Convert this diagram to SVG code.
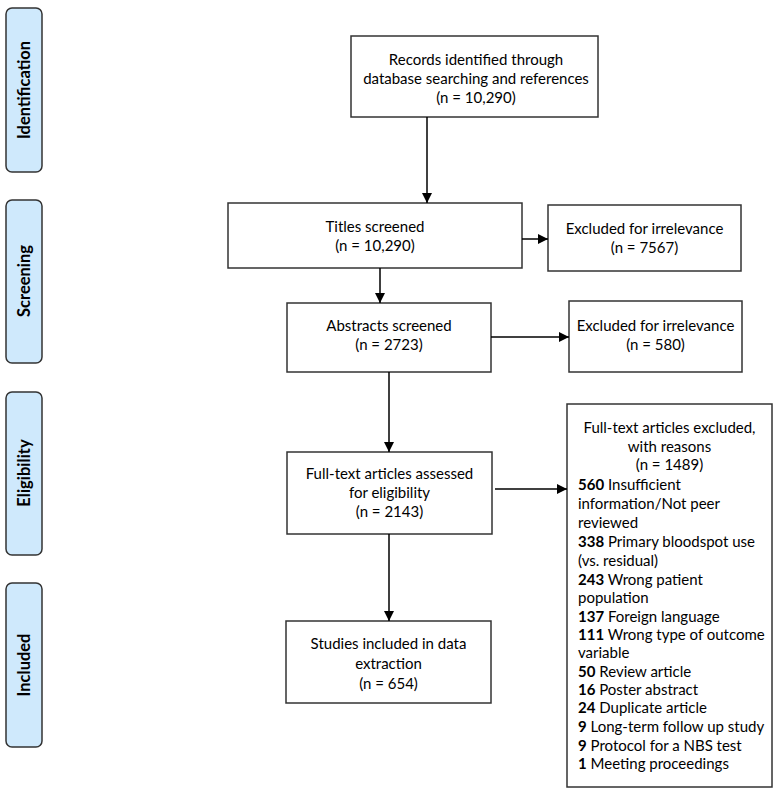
<svg xmlns="http://www.w3.org/2000/svg" width="775" height="791" viewBox="0 0 775 791">
<defs>
<marker id="ah" viewBox="0 0 10 10" refX="10" refY="5" markerWidth="10" markerHeight="10" markerUnits="userSpaceOnUse" orient="auto">
<path d="M0,0 L10,5 L0,10 Z" fill="#000"/>
</marker>
<style>
.stage rect{fill:#cfe9fc;stroke:#333;stroke-width:1.5}
.stage text{font-family:Lato,"Liberation Sans",sans-serif;font-weight:bold;font-size:16.5px;fill:#000;text-anchor:middle}
.box rect{fill:#fff;stroke:#333;stroke-width:1.5}
.box text{font-family:Lato,"Liberation Sans",sans-serif;font-size:15px;fill:#000}
.c{text-anchor:middle}
.conn line{stroke:#000;stroke-width:1.5;marker-end:url(#ah)}
</style>
</defs>
<rect width="775" height="791" fill="#fff"/>
<g id="stage-identification" class="stage"><rect x="6" y="8" width="36" height="164" rx="6"/><text transform="translate(30,90) rotate(-90)">Identification</text></g>
<g id="stage-screening" class="stage"><rect x="6" y="200" width="36" height="163" rx="6"/><text transform="translate(30,281) rotate(-90)">Screening</text></g>
<g id="stage-eligibility" class="stage"><rect x="6" y="392" width="36" height="163" rx="6"/><text transform="translate(30,473) rotate(-90)">Eligibility</text></g>
<g id="stage-included" class="stage"><rect x="6" y="583" width="36" height="164" rx="6"/><text transform="translate(30,665) rotate(-90)">Included</text></g>

<g id="records" class="box"><rect x="351" y="36" width="247" height="81"/>
<text class="c" x="476" y="65">Records identified through</text>
<text class="c" x="476" y="84">database searching and references</text>
<text class="c" x="476" y="103">(n = 10,290)</text></g>

<g id="titles" class="box"><rect x="228" y="203" width="294" height="65"/>
<text class="c" x="375" y="232">Titles screened</text>
<text class="c" x="375" y="251">(n = 10,290)</text></g>

<g id="excluded-titles" class="box"><rect x="548" y="205" width="193" height="66"/>
<text class="c" x="644.5" y="234">Excluded for irrelevance</text>
<text class="c" x="644.5" y="253">(n = 7567)</text></g>

<g id="abstracts" class="box"><rect x="287" y="303" width="204" height="69"/>
<text class="c" x="389" y="331">Abstracts screened</text>
<text class="c" x="389" y="350">(n = 2723)</text></g>

<g id="excluded-abstracts" class="box"><rect x="569" y="301" width="173" height="71"/>
<text class="c" x="655.5" y="331">Excluded for irrelevance</text>
<text class="c" x="655.5" y="350">(n = 580)</text></g>

<g id="fulltext" class="box"><rect x="287" y="452" width="205" height="82"/>
<text class="c" x="389.5" y="479">Full-text articles assessed</text>
<text class="c" x="389.5" y="498">for eligibility</text>
<text class="c" x="389.5" y="517">(n = 2143)</text></g>

<g id="included" class="box"><rect x="286" y="621" width="205" height="82"/>
<text class="c" x="388.5" y="649">Studies included in data</text>
<text class="c" x="388.5" y="669">extraction</text>
<text class="c" x="388.5" y="689">(n = 654)</text></g>

<g id="excluded-fulltext" class="box"><rect x="567" y="404" width="205" height="383"/>
<text class="c" x="669.5" y="433">Full-text articles excluded,</text>
<text class="c" x="669.5" y="452">with reasons</text>
<text class="c" x="669.5" y="470">(n = 1489)</text>
<text x="578" y="490"><tspan font-weight="bold">560</tspan> Insufficient</text>
<text x="578" y="509">information/Not peer</text>
<text x="578" y="528">reviewed</text>
<text x="578" y="547"><tspan font-weight="bold">338</tspan> Primary bloodspot use</text>
<text x="578" y="566">(vs. residual)</text>
<text x="578" y="585"><tspan font-weight="bold">243</tspan> Wrong patient</text>
<text x="578" y="603">population</text>
<text x="578" y="622"><tspan font-weight="bold">137</tspan> Foreign language</text>
<text x="578" y="640"><tspan font-weight="bold">111</tspan> Wrong type of outcome</text>
<text x="578" y="658">variable</text>
<text x="578" y="677"><tspan font-weight="bold">50</tspan> Review article</text>
<text x="578" y="695"><tspan font-weight="bold">16</tspan> Poster abstract</text>
<text x="578" y="713"><tspan font-weight="bold">24</tspan> Duplicate article</text>
<text x="578" y="732"><tspan font-weight="bold">9</tspan> Long-term follow up study</text>
<text x="578" y="751"><tspan font-weight="bold">9</tspan> Protocol for a NBS test</text>
<text x="578" y="769"><tspan font-weight="bold">1</tspan> Meeting proceedings</text></g>

<g id="connectors" class="conn">
<line x1="427" y1="117" x2="427" y2="203"/>
<line x1="522" y1="239" x2="548" y2="239"/>
<line x1="380" y1="268" x2="380" y2="303"/>
<line x1="491" y1="337" x2="569" y2="337"/>
<line x1="389" y1="372" x2="389" y2="452"/>
<line x1="495" y1="489" x2="567" y2="489"/>
<line x1="389" y1="534" x2="389" y2="621"/>
</g>
</svg>
